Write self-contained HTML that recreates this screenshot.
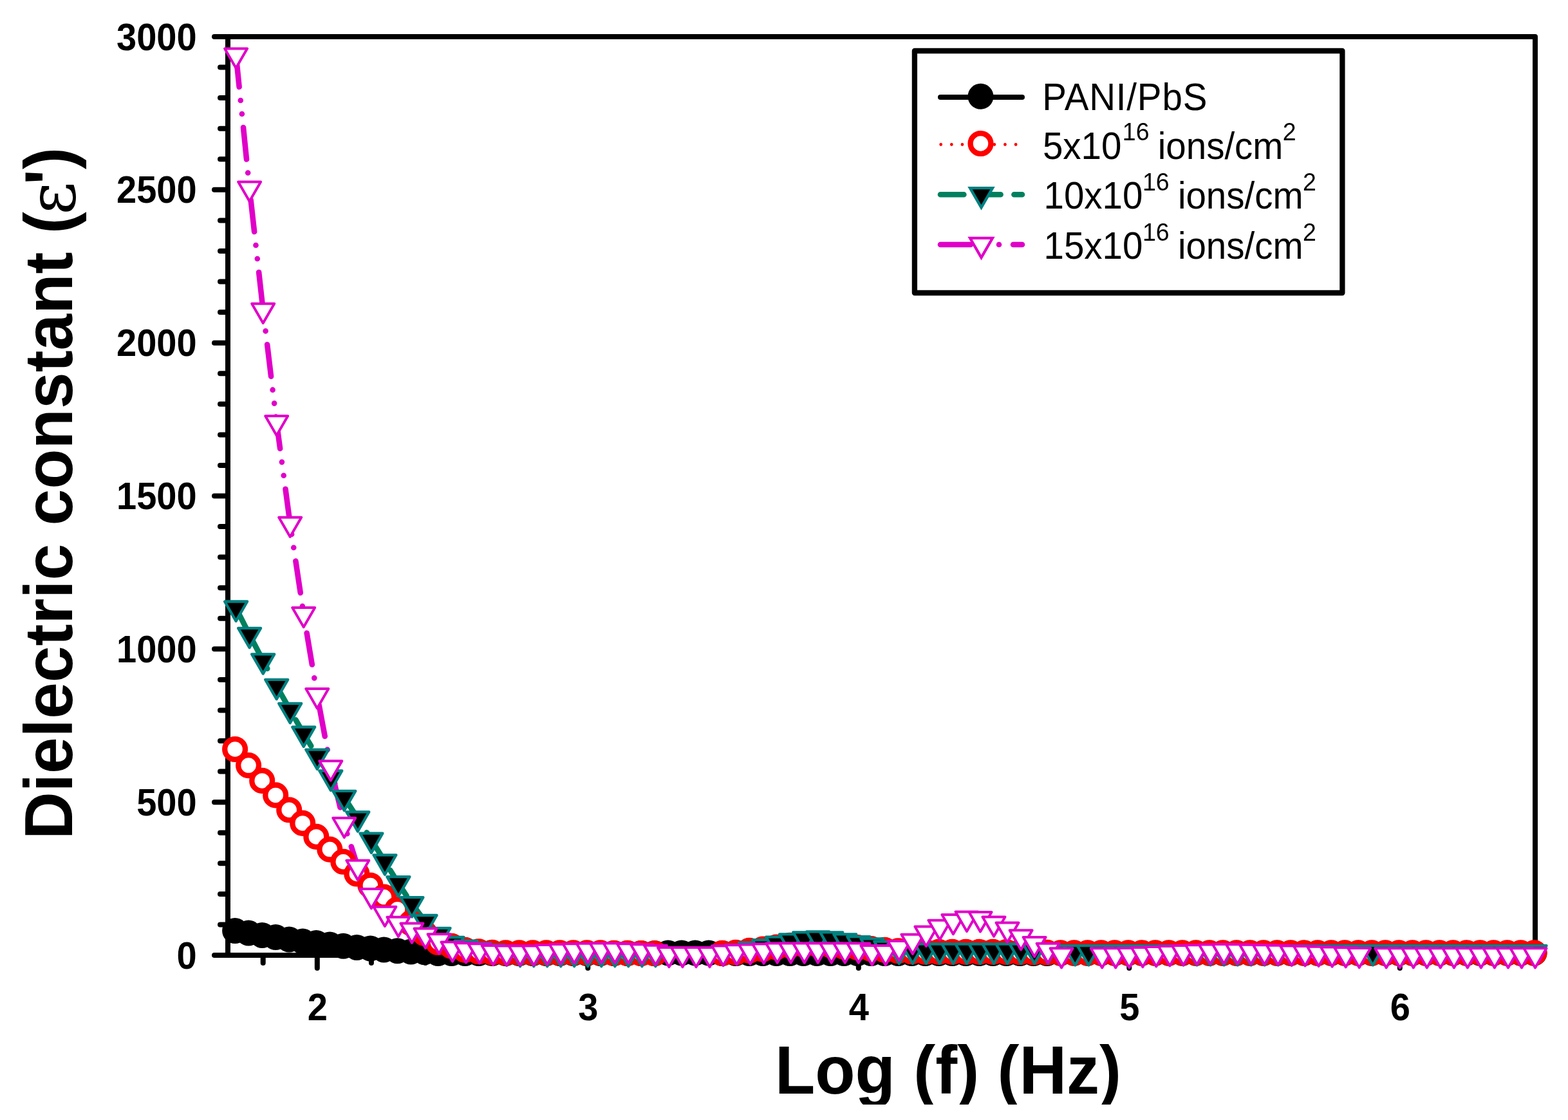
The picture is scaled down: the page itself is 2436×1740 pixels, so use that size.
<!DOCTYPE html>
<html><head><meta charset="utf-8"><title>Dielectric constant vs Log (f)</title>
<style>html,body{margin:0;padding:0;background:#fff;}body{width:2436px;height:1740px;overflow:hidden;}svg{display:block;}</style>
</head><body>
<svg width="2436" height="1740" viewBox="0 0 2436 1740">
<rect width="100%" height="100%" fill="#fff"/>
<rect x="354.0" y="57.0" width="2031.0" height="1427.0" fill="none" stroke="#000" stroke-width="8" stroke-linejoin="round"/>
<path d="M354.0 1484.0H333.0M354.0 1436.4H342.0M354.0 1388.9H342.0M354.0 1341.3H342.0M354.0 1293.7H342.0M354.0 1246.2H333.0M354.0 1198.6H342.0M354.0 1151.0H342.0M354.0 1103.5H342.0M354.0 1055.9H342.0M354.0 1008.3H333.0M354.0 960.8H342.0M354.0 913.2H342.0M354.0 865.6H342.0M354.0 818.1H342.0M354.0 770.5H333.0M354.0 722.9H342.0M354.0 675.4H342.0M354.0 627.8H342.0M354.0 580.2H342.0M354.0 532.7H333.0M354.0 485.1H342.0M354.0 437.5H342.0M354.0 390.0H342.0M354.0 342.4H342.0M354.0 294.8H333.0M354.0 247.3H342.0M354.0 199.7H342.0M354.0 152.1H342.0M354.0 104.6H342.0M354.0 57.0H333.0M408.7 1484.0V1496.0M492.8 1484.0V1504.0M576.9 1484.0V1496.0M661.0 1484.0V1496.0M745.1 1484.0V1496.0M829.2 1484.0V1496.0M913.3 1484.0V1504.0M997.4 1484.0V1496.0M1081.5 1484.0V1496.0M1165.6 1484.0V1496.0M1249.7 1484.0V1496.0M1333.8 1484.0V1504.0M1417.9 1484.0V1496.0M1502.0 1484.0V1496.0M1586.1 1484.0V1496.0M1670.2 1484.0V1496.0M1754.3 1484.0V1504.0M1838.4 1484.0V1496.0M1922.5 1484.0V1496.0M2006.6 1484.0V1496.0M2090.7 1484.0V1496.0M2174.8 1484.0V1504.0M2258.9 1484.0V1496.0M2343.0 1484.0V1496.0" fill="none" stroke="#000" stroke-width="8" stroke-linecap="round"/>
<path d="M366.6 1446.0L387.6 1449.6L408.7 1452.9L429.7 1456.1L450.7 1459.6L471.7 1462.6L492.8 1464.9L513.8 1467.5L534.8 1469.8L555.8 1471.9L576.9 1473.6L597.9 1475.4L618.9 1477.2L639.9 1478.5L661.0 1479.2L682.0 1481.1L703.0 1481.1L724.0 1481.1L745.1 1481.1L766.1 1481.1L787.1 1481.1L808.1 1481.1L829.2 1481.1L850.2 1481.1L871.2 1481.1L892.2 1481.1L913.3 1481.1L934.3 1481.1L955.3 1481.1L976.3 1481.1L997.4 1481.1L1018.4 1481.1L1039.4 1480.6L1060.4 1480.6L1081.5 1480.6L1102.5 1480.6L1123.5 1481.1L1144.5 1481.1L1165.6 1481.1L1186.6 1481.1L1207.6 1481.1L1228.6 1481.1L1249.7 1481.1L1270.7 1481.1L1291.7 1481.1L1312.7 1481.1L1333.8 1481.1L1354.8 1481.1L1375.8 1481.1L1396.8 1481.1L1417.9 1481.1L1438.9 1481.1L1459.9 1481.1L1480.9 1481.1L1502.0 1481.1L1523.0 1481.1L1544.0 1481.1L1565.0 1481.1L1586.1 1481.1L1607.1 1481.1L1628.1 1481.1L1649.1 1480.7L1670.2 1480.7L1691.2 1480.7L1712.2 1480.7L1733.2 1480.7L1754.3 1480.7L1775.3 1480.7L1796.3 1480.7L1817.3 1480.7L1838.4 1480.7L1859.4 1480.7L1880.4 1480.7L1901.4 1480.7L1922.5 1480.7L1943.5 1480.7L1964.5 1480.7L1985.5 1480.7L2006.6 1480.7L2027.6 1480.7L2048.6 1480.7L2069.6 1480.7L2090.7 1480.7L2111.7 1480.7L2132.7 1480.7L2153.7 1480.7L2174.8 1480.7L2195.8 1480.7L2216.8 1480.7L2237.8 1480.7L2258.9 1480.7L2279.9 1480.7L2300.9 1480.7L2321.9 1480.7L2343.0 1480.7L2364.0 1480.7L2385.0 1480.7" fill="none" stroke="#000" stroke-width="8" stroke-linejoin="round" stroke-linecap="round"/>
<path d="M366.6 1164.0L387.6 1189.1L408.7 1212.9L429.7 1235.4L450.7 1258.3L471.7 1278.9L492.8 1299.9L513.8 1319.6L534.8 1338.7L555.8 1357.5L576.9 1375.5L597.9 1393.6L618.9 1412.7L639.9 1434.1L661.0 1449.8L682.0 1464.0L703.0 1469.7L724.0 1475.9L745.1 1478.3L766.1 1479.7L787.1 1480.2L808.1 1480.2L829.2 1480.2L850.2 1480.2L871.2 1480.2L892.2 1480.2L913.3 1480.2L934.3 1480.2L955.3 1480.7L976.3 1480.7L997.4 1481.1L1018.4 1481.2M1123.5 1480.9L1144.5 1479.7L1165.6 1476.9L1186.6 1474.5L1207.6 1471.6L1228.6 1468.8L1249.7 1467.4L1270.7 1466.9L1291.7 1468.3L1312.7 1470.7L1333.8 1472.1L1354.8 1474.0L1375.8 1475.9L1396.8 1477.3L1417.9 1478.3L1438.9 1478.8L1459.9 1478.9L1480.9 1478.9L1502.0 1478.9L1523.0 1478.9L1544.0 1478.9L1565.0 1479.0L1586.1 1479.2L1607.1 1479.5L1628.1 1479.7L1649.1 1480.2L1670.2 1480.2L1691.2 1480.2L1712.2 1480.2L1733.2 1480.2L1754.3 1480.2L1775.3 1480.2L1796.3 1480.2L1817.3 1480.2L1838.4 1480.2L1859.4 1480.2L1880.4 1480.2L1901.4 1480.2L1922.5 1480.2L1943.5 1480.2L1964.5 1480.2L1985.5 1480.2L2006.6 1480.2L2027.6 1480.2L2048.6 1480.2L2069.6 1480.2L2090.7 1480.2L2111.7 1480.2L2132.7 1480.2L2153.7 1480.2L2174.8 1480.2L2195.8 1480.2L2216.8 1480.2L2237.8 1480.2L2258.9 1480.2L2279.9 1480.2L2300.9 1480.2L2321.9 1480.2L2343.0 1480.2L2364.0 1480.2L2385.0 1480.2" fill="none" stroke="#ff0000" stroke-width="4.8" stroke-linecap="round" stroke-dasharray="0 16.6"/>
<path d="M366.6 944.6L387.6 986.0L408.7 1026.4L429.7 1065.9L450.7 1103.0L471.7 1139.6L492.8 1174.8L513.8 1207.6L534.8 1239.0L555.8 1271.4L576.9 1304.7L597.9 1338.4L618.9 1372.2L639.9 1404.3L661.0 1432.2L682.0 1451.9L703.0 1466.1L724.0 1471.8L745.1 1475.3L766.1 1478.3L787.1 1479.7L808.1 1481.1L829.2 1481.1L850.2 1481.1L871.2 1481.1L892.2 1481.1L913.3 1481.1L934.3 1481.1L955.3 1481.1L976.3 1481.1L997.4 1481.1L1018.4 1481.1M1123.5 1479.7L1144.5 1478.1L1165.6 1474.5L1186.6 1470.4L1207.6 1465.7L1228.6 1461.4L1249.7 1458.6L1270.7 1457.5L1291.7 1458.6L1312.7 1461.4L1333.8 1465.2L1354.8 1468.4L1375.8 1472.8L1396.8 1476.9L1417.9 1476.7L1438.9 1476.7L1459.9 1476.7L1480.9 1476.7L1502.0 1476.7L1523.0 1476.7L1544.0 1476.7L1565.0 1476.7L1586.1 1476.7L1607.1 1476.7L1628.1 1476.7L1649.1 1479.3L1670.2 1479.3L1691.2 1479.3L1712.2 1479.3L1733.2 1479.3L1754.3 1479.3L1775.3 1479.3L1796.3 1479.3L1817.3 1479.3L1838.4 1479.3L1859.4 1479.3L1880.4 1479.3L1901.4 1479.3L1922.5 1479.3L1943.5 1479.3L1964.5 1479.3L1985.5 1479.3L2006.6 1479.3L2027.6 1479.3L2048.6 1479.3L2069.6 1479.3L2090.7 1479.3L2111.7 1479.3L2132.7 1479.3L2153.7 1479.3L2174.8 1479.3L2195.8 1479.3L2216.8 1479.3L2237.8 1479.3L2258.9 1479.3L2279.9 1479.3L2300.9 1479.3L2321.9 1479.3L2343.0 1479.3L2364.0 1479.3L2385.0 1479.3" fill="none" stroke="#00805e" stroke-width="8.6" stroke-linecap="round" stroke-linejoin="round" stroke-dasharray="47 22" stroke-dashoffset="10"/>
<path d="M366.6 85.5L387.6 292.5L408.7 481.8L429.7 656.3L450.7 813.8L471.7 954.1L492.8 1080.2L513.8 1192.4L534.8 1280.9L555.8 1346.8L576.9 1391.1L597.9 1418.8L618.9 1434.8L639.9 1444.6L661.0 1452.7L682.0 1461.3L703.0 1473.5L724.0 1475.3L745.1 1476.4L766.1 1479.0L787.1 1479.5L808.1 1479.5L829.2 1479.5L850.2 1478.1L871.2 1477.2L892.2 1476.4L913.3 1475.9L934.3 1475.7L955.3 1475.7L976.3 1476.4L997.4 1477.3L1018.4 1478.8L1039.4 1482.1L1060.4 1482.1L1081.5 1482.1L1102.5 1482.1L1123.5 1479.7L1144.5 1478.3L1165.6 1477.6L1186.6 1476.6L1207.6 1475.6L1228.6 1475.6L1249.7 1475.6L1270.7 1475.6L1291.7 1475.6L1312.7 1475.6L1333.8 1475.6L1354.8 1479.0L1375.8 1479.0L1396.8 1472.0L1417.9 1461.8L1438.9 1449.8L1459.9 1439.9L1480.9 1431.1L1502.0 1426.7L1523.0 1427.2L1544.0 1434.6L1565.0 1443.7L1586.1 1455.3L1607.1 1466.0L1628.1 1475.9L1649.1 1483.3M1712.2 1483.3L1733.2 1483.3L1754.3 1483.0L1775.3 1482.1L1796.3 1481.1L1817.3 1480.2L1838.4 1479.2L1859.4 1478.3L1880.4 1477.6L1901.4 1477.1L1922.5 1477.3L1943.5 1477.8L1964.5 1478.3L1985.5 1478.8L2006.6 1479.7L2027.6 1480.2L2048.6 1480.9L2069.6 1481.6L2090.7 1482.3L2111.7 1483.0M2153.7 1483.3L2174.8 1483.3L2195.8 1483.3L2216.8 1483.3L2237.8 1483.3L2258.9 1483.3L2279.9 1483.3L2300.9 1483.3L2321.9 1483.3L2343.0 1483.3L2364.0 1483.3L2385.0 1483.3" fill="none" stroke="#e000c8" stroke-width="8.6" stroke-linecap="round" stroke-linejoin="round" stroke-dasharray="49.8 21.1 0 21.1 0 21.1"/>
<g fill="#000"><circle cx="365.1" cy="1446.0" r="20"/><circle cx="386.1" cy="1449.6" r="20"/><circle cx="407.2" cy="1452.9" r="20"/><circle cx="428.2" cy="1456.1" r="20"/><circle cx="449.2" cy="1459.6" r="20"/><circle cx="470.2" cy="1462.6" r="20"/><circle cx="491.3" cy="1464.9" r="20"/><circle cx="512.3" cy="1467.5" r="20"/><circle cx="533.3" cy="1469.8" r="20"/><circle cx="554.3" cy="1471.9" r="20"/><circle cx="575.4" cy="1473.6" r="20"/><circle cx="596.4" cy="1475.4" r="20"/><circle cx="617.4" cy="1477.2" r="20"/><circle cx="638.4" cy="1478.5" r="20"/><circle cx="659.5" cy="1479.2" r="20"/><circle cx="680.5" cy="1481.1" r="20"/><circle cx="701.5" cy="1481.1" r="20"/><circle cx="722.5" cy="1481.1" r="20"/><circle cx="743.6" cy="1481.1" r="20"/><circle cx="764.6" cy="1481.1" r="20"/><circle cx="785.6" cy="1481.1" r="20"/><circle cx="806.6" cy="1481.1" r="20"/><circle cx="827.7" cy="1481.1" r="20"/><circle cx="848.7" cy="1481.1" r="20"/><circle cx="869.7" cy="1481.1" r="20"/><circle cx="890.7" cy="1481.1" r="20"/><circle cx="911.8" cy="1481.1" r="20"/><circle cx="932.8" cy="1481.1" r="20"/><circle cx="953.8" cy="1481.1" r="20"/><circle cx="974.8" cy="1481.1" r="20"/><circle cx="995.9" cy="1481.1" r="20"/><circle cx="1016.9" cy="1481.1" r="20"/><circle cx="1037.9" cy="1480.6" r="20"/><circle cx="1058.9" cy="1480.6" r="20"/><circle cx="1080.0" cy="1480.6" r="20"/><circle cx="1101.0" cy="1480.6" r="20"/><circle cx="1122.0" cy="1481.1" r="20"/><circle cx="1143.0" cy="1481.1" r="20"/><circle cx="1164.1" cy="1481.1" r="20"/><circle cx="1185.1" cy="1481.1" r="20"/><circle cx="1206.1" cy="1481.1" r="20"/><circle cx="1227.1" cy="1481.1" r="20"/><circle cx="1248.2" cy="1481.1" r="20"/><circle cx="1269.2" cy="1481.1" r="20"/><circle cx="1290.2" cy="1481.1" r="20"/><circle cx="1311.2" cy="1481.1" r="20"/><circle cx="1332.3" cy="1481.1" r="20"/><circle cx="1353.3" cy="1481.1" r="20"/><circle cx="1374.3" cy="1481.1" r="20"/><circle cx="1395.3" cy="1481.1" r="20"/><circle cx="1416.4" cy="1481.1" r="20"/><circle cx="1437.4" cy="1481.1" r="20"/><circle cx="1458.4" cy="1481.1" r="20"/><circle cx="1479.4" cy="1481.1" r="20"/><circle cx="1500.5" cy="1481.1" r="20"/><circle cx="1521.5" cy="1481.1" r="20"/><circle cx="1542.5" cy="1481.1" r="20"/><circle cx="1563.5" cy="1481.1" r="20"/><circle cx="1584.6" cy="1481.1" r="20"/><circle cx="1605.6" cy="1481.1" r="20"/><circle cx="1626.6" cy="1481.1" r="20"/><circle cx="1647.6" cy="1480.7" r="20"/><circle cx="1668.7" cy="1480.7" r="20"/><circle cx="1689.7" cy="1480.7" r="20"/><circle cx="1710.7" cy="1480.7" r="20"/><circle cx="1731.7" cy="1480.7" r="20"/><circle cx="1752.8" cy="1480.7" r="20"/><circle cx="1773.8" cy="1480.7" r="20"/><circle cx="1794.8" cy="1480.7" r="20"/><circle cx="1815.8" cy="1480.7" r="20"/><circle cx="1836.9" cy="1480.7" r="20"/><circle cx="1857.9" cy="1480.7" r="20"/><circle cx="1878.9" cy="1480.7" r="20"/><circle cx="1899.9" cy="1480.7" r="20"/><circle cx="1921.0" cy="1480.7" r="20"/><circle cx="1942.0" cy="1480.7" r="20"/><circle cx="1963.0" cy="1480.7" r="20"/><circle cx="1984.0" cy="1480.7" r="20"/><circle cx="2005.1" cy="1480.7" r="20"/><circle cx="2026.1" cy="1480.7" r="20"/><circle cx="2047.1" cy="1480.7" r="20"/><circle cx="2068.1" cy="1480.7" r="20"/><circle cx="2089.2" cy="1480.7" r="20"/><circle cx="2110.2" cy="1480.7" r="20"/><circle cx="2131.2" cy="1480.7" r="20"/><circle cx="2152.2" cy="1480.7" r="20"/><circle cx="2173.3" cy="1480.7" r="20"/><circle cx="2194.3" cy="1480.7" r="20"/><circle cx="2215.3" cy="1480.7" r="20"/><circle cx="2236.3" cy="1480.7" r="20"/><circle cx="2257.4" cy="1480.7" r="20"/><circle cx="2278.4" cy="1480.7" r="20"/><circle cx="2299.4" cy="1480.7" r="20"/><circle cx="2320.4" cy="1480.7" r="20"/><circle cx="2341.5" cy="1480.7" r="20"/><circle cx="2362.5" cy="1480.7" r="20"/><circle cx="2383.5" cy="1480.7" r="20"/></g>
<g fill="#fff" stroke="#ff0000" stroke-width="8.3"><circle cx="365.1" cy="1164.0" r="15.9"/><circle cx="386.1" cy="1189.1" r="15.9"/><circle cx="407.2" cy="1212.9" r="15.9"/><circle cx="428.2" cy="1235.4" r="15.9"/><circle cx="449.2" cy="1258.3" r="15.9"/><circle cx="470.2" cy="1278.9" r="15.9"/><circle cx="491.3" cy="1299.9" r="15.9"/><circle cx="512.3" cy="1319.6" r="15.9"/><circle cx="533.3" cy="1338.7" r="15.9"/><circle cx="554.3" cy="1357.5" r="15.9"/><circle cx="575.4" cy="1375.5" r="15.9"/><circle cx="596.4" cy="1393.6" r="15.9"/><circle cx="617.4" cy="1412.7" r="15.9"/><circle cx="638.4" cy="1434.1" r="15.9"/><circle cx="659.5" cy="1449.8" r="15.9"/><circle cx="680.5" cy="1464.0" r="15.9"/><circle cx="701.5" cy="1469.7" r="15.9"/><circle cx="722.5" cy="1475.9" r="15.9"/><circle cx="743.6" cy="1478.3" r="15.9"/><circle cx="764.6" cy="1479.7" r="15.9"/><circle cx="785.6" cy="1480.2" r="15.9"/><circle cx="806.6" cy="1480.2" r="15.9"/><circle cx="827.7" cy="1480.2" r="15.9"/><circle cx="848.7" cy="1480.2" r="15.9"/><circle cx="869.7" cy="1480.2" r="15.9"/><circle cx="890.7" cy="1480.2" r="15.9"/><circle cx="911.8" cy="1480.2" r="15.9"/><circle cx="932.8" cy="1480.2" r="15.9"/><circle cx="953.8" cy="1480.7" r="15.9"/><circle cx="974.8" cy="1480.7" r="15.9"/><circle cx="995.9" cy="1481.1" r="15.9"/><circle cx="1016.9" cy="1481.2" r="15.9"/><circle cx="1122.0" cy="1480.9" r="15.9"/><circle cx="1143.0" cy="1479.7" r="15.9"/><circle cx="1164.1" cy="1476.9" r="15.9"/><circle cx="1185.1" cy="1474.5" r="15.9"/><circle cx="1206.1" cy="1471.6" r="15.9"/><circle cx="1227.1" cy="1468.8" r="15.9"/><circle cx="1248.2" cy="1467.4" r="15.9"/><circle cx="1269.2" cy="1466.9" r="15.9"/><circle cx="1290.2" cy="1468.3" r="15.9"/><circle cx="1311.2" cy="1470.7" r="15.9"/><circle cx="1332.3" cy="1472.1" r="15.9"/><circle cx="1353.3" cy="1474.0" r="15.9"/><circle cx="1374.3" cy="1475.9" r="15.9"/><circle cx="1395.3" cy="1477.3" r="15.9"/><circle cx="1416.4" cy="1478.3" r="15.9"/><circle cx="1437.4" cy="1478.8" r="15.9"/><circle cx="1458.4" cy="1478.9" r="15.9"/><circle cx="1479.4" cy="1478.9" r="15.9"/><circle cx="1500.5" cy="1478.9" r="15.9"/><circle cx="1521.5" cy="1478.9" r="15.9"/><circle cx="1542.5" cy="1478.9" r="15.9"/><circle cx="1563.5" cy="1479.0" r="15.9"/><circle cx="1584.6" cy="1479.2" r="15.9"/><circle cx="1605.6" cy="1479.5" r="15.9"/><circle cx="1626.6" cy="1479.7" r="15.9"/><circle cx="1647.6" cy="1480.2" r="15.9"/><circle cx="1668.7" cy="1480.2" r="15.9"/><circle cx="1689.7" cy="1480.2" r="15.9"/><circle cx="1710.7" cy="1480.2" r="15.9"/><circle cx="1731.7" cy="1480.2" r="15.9"/><circle cx="1752.8" cy="1480.2" r="15.9"/><circle cx="1773.8" cy="1480.2" r="15.9"/><circle cx="1794.8" cy="1480.2" r="15.9"/><circle cx="1815.8" cy="1480.2" r="15.9"/><circle cx="1836.9" cy="1480.2" r="15.9"/><circle cx="1857.9" cy="1480.2" r="15.9"/><circle cx="1878.9" cy="1480.2" r="15.9"/><circle cx="1899.9" cy="1480.2" r="15.9"/><circle cx="1921.0" cy="1480.2" r="15.9"/><circle cx="1942.0" cy="1480.2" r="15.9"/><circle cx="1963.0" cy="1480.2" r="15.9"/><circle cx="1984.0" cy="1480.2" r="15.9"/><circle cx="2005.1" cy="1480.2" r="15.9"/><circle cx="2026.1" cy="1480.2" r="15.9"/><circle cx="2047.1" cy="1480.2" r="15.9"/><circle cx="2068.1" cy="1480.2" r="15.9"/><circle cx="2089.2" cy="1480.2" r="15.9"/><circle cx="2110.2" cy="1480.2" r="15.9"/><circle cx="2131.2" cy="1480.2" r="15.9"/><circle cx="2152.2" cy="1480.2" r="15.9"/><circle cx="2173.3" cy="1480.2" r="15.9"/><circle cx="2194.3" cy="1480.2" r="15.9"/><circle cx="2215.3" cy="1480.2" r="15.9"/><circle cx="2236.3" cy="1480.2" r="15.9"/><circle cx="2257.4" cy="1480.2" r="15.9"/><circle cx="2278.4" cy="1480.2" r="15.9"/><circle cx="2299.4" cy="1480.2" r="15.9"/><circle cx="2320.4" cy="1480.2" r="15.9"/><circle cx="2341.5" cy="1480.2" r="15.9"/><circle cx="2362.5" cy="1480.2" r="15.9"/><circle cx="2383.5" cy="1480.2" r="15.9"/></g>
<g fill="#000" stroke="#008080" stroke-width="4.3" stroke-linejoin="round"><path d="M349.1 934.5L384.1 934.5L366.6 964.8Z"/><path d="M370.1 975.9L405.1 975.9L387.6 1006.2Z"/><path d="M391.2 1016.3L426.2 1016.3L408.7 1046.6Z"/><path d="M412.2 1055.8L447.2 1055.8L429.7 1086.1Z"/><path d="M433.2 1092.9L468.2 1092.9L450.7 1123.2Z"/><path d="M454.2 1129.5L489.2 1129.5L471.7 1159.8Z"/><path d="M475.3 1164.7L510.3 1164.7L492.8 1195.0Z"/><path d="M496.3 1197.5L531.3 1197.5L513.8 1227.8Z"/><path d="M517.3 1228.9L552.3 1228.9L534.8 1259.2Z"/><path d="M538.3 1261.3L573.3 1261.3L555.8 1291.6Z"/><path d="M559.4 1294.6L594.4 1294.6L576.9 1324.9Z"/><path d="M580.4 1328.3L615.4 1328.3L597.9 1358.7Z"/><path d="M601.4 1362.1L636.4 1362.1L618.9 1392.4Z"/><path d="M622.4 1394.2L657.4 1394.2L639.9 1424.5Z"/><path d="M643.5 1422.0L678.5 1422.0L661.0 1452.4Z"/><path d="M664.5 1441.8L699.5 1441.8L682.0 1472.1Z"/><path d="M685.5 1456.0L720.5 1456.0L703.0 1486.3Z"/><path d="M706.5 1461.7L741.5 1461.7L724.0 1492.0Z"/><path d="M727.6 1465.2L762.6 1465.2L745.1 1495.5Z"/><path d="M748.6 1468.2L783.6 1468.2L766.1 1498.5Z"/><path d="M769.6 1469.6L804.6 1469.6L787.1 1499.9Z"/><path d="M790.6 1470.9L825.6 1470.9L808.1 1501.3Z"/><path d="M811.7 1470.9L846.7 1470.9L829.2 1501.3Z"/><path d="M832.7 1470.9L867.7 1470.9L850.2 1501.3Z"/><path d="M853.7 1470.9L888.7 1470.9L871.2 1501.3Z"/><path d="M874.7 1470.9L909.7 1470.9L892.2 1501.3Z"/><path d="M895.8 1470.9L930.8 1470.9L913.3 1501.3Z"/><path d="M916.8 1470.9L951.8 1470.9L934.3 1501.3Z"/><path d="M937.8 1470.9L972.8 1470.9L955.3 1501.3Z"/><path d="M958.8 1470.9L993.8 1470.9L976.3 1501.3Z"/><path d="M979.9 1470.9L1014.9 1470.9L997.4 1501.3Z"/><path d="M1000.9 1470.9L1035.9 1470.9L1018.4 1501.3Z"/><path d="M1106.0 1469.6L1141.0 1469.6L1123.5 1499.9Z"/><path d="M1127.0 1468.0L1162.0 1468.0L1144.5 1498.3Z"/><path d="M1148.1 1464.4L1183.1 1464.4L1165.6 1494.7Z"/><path d="M1169.1 1460.3L1204.1 1460.3L1186.6 1490.7Z"/><path d="M1190.1 1455.6L1225.1 1455.6L1207.6 1485.9Z"/><path d="M1211.1 1451.3L1246.1 1451.3L1228.6 1481.6Z"/><path d="M1232.2 1448.4L1267.2 1448.4L1249.7 1478.8Z"/><path d="M1253.2 1447.4L1288.2 1447.4L1270.7 1477.7Z"/><path d="M1274.2 1448.4L1309.2 1448.4L1291.7 1478.8Z"/><path d="M1295.2 1451.3L1330.2 1451.3L1312.7 1481.6Z"/><path d="M1316.3 1455.1L1351.3 1455.1L1333.8 1485.4Z"/><path d="M1337.3 1458.3L1372.3 1458.3L1354.8 1488.7Z"/><path d="M1358.3 1462.7L1393.3 1462.7L1375.8 1493.0Z"/><path d="M1379.3 1466.8L1414.3 1466.8L1396.8 1497.1Z"/><path d="M1400.4 1466.6L1435.4 1466.6L1417.9 1496.9Z"/><path d="M1421.4 1466.6L1456.4 1466.6L1438.9 1496.9Z"/><path d="M1442.4 1466.6L1477.4 1466.6L1459.9 1496.9Z"/><path d="M1463.4 1466.6L1498.4 1466.6L1480.9 1496.9Z"/><path d="M1484.5 1466.6L1519.5 1466.6L1502.0 1496.9Z"/><path d="M1505.5 1466.6L1540.5 1466.6L1523.0 1496.9Z"/><path d="M1526.5 1466.6L1561.5 1466.6L1544.0 1496.9Z"/><path d="M1547.5 1466.6L1582.5 1466.6L1565.0 1496.9Z"/><path d="M1568.6 1466.6L1603.6 1466.6L1586.1 1496.9Z"/><path d="M1589.6 1466.6L1624.6 1466.6L1607.1 1496.9Z"/><path d="M1610.6 1466.6L1645.6 1466.6L1628.1 1496.9Z"/><path d="M1631.6 1469.2L1666.6 1469.2L1649.1 1499.5Z"/><path d="M1652.7 1469.2L1687.7 1469.2L1670.2 1499.5Z"/><path d="M1673.7 1469.2L1708.7 1469.2L1691.2 1499.5Z"/><path d="M1694.7 1469.2L1729.7 1469.2L1712.2 1499.5Z"/><path d="M1715.7 1469.2L1750.7 1469.2L1733.2 1499.5Z"/><path d="M1736.8 1469.2L1771.8 1469.2L1754.3 1499.5Z"/><path d="M1757.8 1469.2L1792.8 1469.2L1775.3 1499.5Z"/><path d="M1778.8 1469.2L1813.8 1469.2L1796.3 1499.5Z"/><path d="M1799.8 1469.2L1834.8 1469.2L1817.3 1499.5Z"/><path d="M1820.9 1469.2L1855.9 1469.2L1838.4 1499.5Z"/><path d="M1841.9 1469.2L1876.9 1469.2L1859.4 1499.5Z"/><path d="M1862.9 1469.2L1897.9 1469.2L1880.4 1499.5Z"/><path d="M1883.9 1469.2L1918.9 1469.2L1901.4 1499.5Z"/><path d="M1905.0 1469.2L1940.0 1469.2L1922.5 1499.5Z"/><path d="M1926.0 1469.2L1961.0 1469.2L1943.5 1499.5Z"/><path d="M1947.0 1469.2L1982.0 1469.2L1964.5 1499.5Z"/><path d="M1968.0 1469.2L2003.0 1469.2L1985.5 1499.5Z"/><path d="M1989.1 1469.2L2024.1 1469.2L2006.6 1499.5Z"/><path d="M2010.1 1469.2L2045.1 1469.2L2027.6 1499.5Z"/><path d="M2031.1 1469.2L2066.1 1469.2L2048.6 1499.5Z"/><path d="M2052.1 1469.2L2087.1 1469.2L2069.6 1499.5Z"/><path d="M2073.2 1469.2L2108.2 1469.2L2090.7 1499.5Z"/><path d="M2094.2 1469.2L2129.2 1469.2L2111.7 1499.5Z"/><path d="M2115.2 1469.2L2150.2 1469.2L2132.7 1499.5Z"/><path d="M2136.2 1469.2L2171.2 1469.2L2153.7 1499.5Z"/><path d="M2157.3 1469.2L2192.3 1469.2L2174.8 1499.5Z"/><path d="M2178.3 1469.2L2213.3 1469.2L2195.8 1499.5Z"/><path d="M2199.3 1469.2L2234.3 1469.2L2216.8 1499.5Z"/><path d="M2220.3 1469.2L2255.3 1469.2L2237.8 1499.5Z"/><path d="M2241.4 1469.2L2276.4 1469.2L2258.9 1499.5Z"/><path d="M2262.4 1469.2L2297.4 1469.2L2279.9 1499.5Z"/><path d="M2283.4 1469.2L2318.4 1469.2L2300.9 1499.5Z"/><path d="M2304.4 1469.2L2339.4 1469.2L2321.9 1499.5Z"/><path d="M2325.5 1469.2L2360.5 1469.2L2343.0 1499.5Z"/><path d="M2346.5 1469.2L2381.5 1469.2L2364.0 1499.5Z"/><path d="M2367.5 1469.2L2402.5 1469.2L2385.0 1499.5Z"/></g>
<g fill="#fff" stroke="#e000c8" stroke-width="4.0" stroke-linejoin="round"><path d="M349.1 75.4L384.1 75.4L366.6 105.7Z"/><path d="M370.1 282.4L405.1 282.4L387.6 312.7Z"/><path d="M391.2 471.7L426.2 471.7L408.7 502.0Z"/><path d="M412.2 646.2L447.2 646.2L429.7 676.5Z"/><path d="M433.2 803.7L468.2 803.7L450.7 834.0Z"/><path d="M454.2 944.0L489.2 944.0L471.7 974.3Z"/><path d="M475.3 1070.1L510.3 1070.1L492.8 1100.4Z"/><path d="M496.3 1182.3L531.3 1182.3L513.8 1212.6Z"/><path d="M517.3 1270.8L552.3 1270.8L534.8 1301.1Z"/><path d="M538.3 1336.7L573.3 1336.7L555.8 1367.0Z"/><path d="M559.4 1381.0L594.4 1381.0L576.9 1411.3Z"/><path d="M580.4 1408.7L615.4 1408.7L597.9 1439.0Z"/><path d="M601.4 1424.7L636.4 1424.7L618.9 1455.0Z"/><path d="M622.4 1434.5L657.4 1434.5L639.9 1464.8Z"/><path d="M643.5 1442.6L678.5 1442.6L661.0 1472.9Z"/><path d="M664.5 1451.2L699.5 1451.2L682.0 1481.5Z"/><path d="M685.5 1463.4L720.5 1463.4L703.0 1493.7Z"/><path d="M706.5 1465.2L741.5 1465.2L724.0 1495.5Z"/><path d="M727.6 1466.3L762.6 1466.3L745.1 1496.6Z"/><path d="M748.6 1468.9L783.6 1468.9L766.1 1499.2Z"/><path d="M769.6 1469.4L804.6 1469.4L787.1 1499.7Z"/><path d="M790.6 1469.4L825.6 1469.4L808.1 1499.7Z"/><path d="M811.7 1469.4L846.7 1469.4L829.2 1499.7Z"/><path d="M832.7 1468.0L867.7 1468.0L850.2 1498.3Z"/><path d="M853.7 1467.1L888.7 1467.1L871.2 1497.5Z"/><path d="M874.7 1466.3L909.7 1466.3L892.2 1496.6Z"/><path d="M895.8 1465.8L930.8 1465.8L913.3 1496.1Z"/><path d="M916.8 1465.6L951.8 1465.6L934.3 1495.9Z"/><path d="M937.8 1465.6L972.8 1465.6L955.3 1495.9Z"/><path d="M958.8 1466.3L993.8 1466.3L976.3 1496.6Z"/><path d="M979.9 1467.2L1014.9 1467.2L997.4 1497.5Z"/><path d="M1000.9 1468.7L1035.9 1468.7L1018.4 1499.0Z"/><path d="M1021.9 1472.0L1056.9 1472.0L1039.4 1502.3Z"/><path d="M1042.9 1472.0L1077.9 1472.0L1060.4 1502.3Z"/><path d="M1064.0 1472.0L1099.0 1472.0L1081.5 1502.3Z"/><path d="M1085.0 1472.0L1120.0 1472.0L1102.5 1502.3Z"/><path d="M1106.0 1469.6L1141.0 1469.6L1123.5 1499.9Z"/><path d="M1127.0 1468.2L1162.0 1468.2L1144.5 1498.5Z"/><path d="M1148.1 1467.5L1183.1 1467.5L1165.6 1497.8Z"/><path d="M1169.1 1466.5L1204.1 1466.5L1186.6 1496.8Z"/><path d="M1190.1 1465.5L1225.1 1465.5L1207.6 1495.8Z"/><path d="M1211.1 1465.5L1246.1 1465.5L1228.6 1495.8Z"/><path d="M1232.2 1465.5L1267.2 1465.5L1249.7 1495.8Z"/><path d="M1253.2 1465.5L1288.2 1465.5L1270.7 1495.8Z"/><path d="M1274.2 1465.5L1309.2 1465.5L1291.7 1495.8Z"/><path d="M1295.2 1465.5L1330.2 1465.5L1312.7 1495.8Z"/><path d="M1316.3 1465.5L1351.3 1465.5L1333.8 1495.8Z"/><path d="M1337.3 1468.9L1372.3 1468.9L1354.8 1499.2Z"/><path d="M1358.3 1468.9L1393.3 1468.9L1375.8 1499.2Z"/><path d="M1379.3 1461.9L1414.3 1461.9L1396.8 1492.2Z"/><path d="M1400.4 1451.7L1435.4 1451.7L1417.9 1482.0Z"/><path d="M1421.4 1439.6L1456.4 1439.6L1438.9 1470.0Z"/><path d="M1442.4 1429.8L1477.4 1429.8L1459.9 1460.1Z"/><path d="M1463.4 1421.0L1498.4 1421.0L1480.9 1451.3Z"/><path d="M1484.5 1416.6L1519.5 1416.6L1502.0 1446.9Z"/><path d="M1505.5 1417.1L1540.5 1417.1L1523.0 1447.4Z"/><path d="M1526.5 1424.5L1561.5 1424.5L1544.0 1454.8Z"/><path d="M1547.5 1433.6L1582.5 1433.6L1565.0 1463.9Z"/><path d="M1568.6 1445.2L1603.6 1445.2L1586.1 1475.5Z"/><path d="M1589.6 1455.9L1624.6 1455.9L1607.1 1486.2Z"/><path d="M1610.6 1465.8L1645.6 1465.8L1628.1 1496.1Z"/><path d="M1631.6 1473.2L1666.6 1473.2L1649.1 1503.5Z"/><path d="M1694.7 1473.2L1729.7 1473.2L1712.2 1503.5Z"/><path d="M1715.7 1473.2L1750.7 1473.2L1733.2 1503.5Z"/><path d="M1736.8 1472.9L1771.8 1472.9L1754.3 1503.3Z"/><path d="M1757.8 1472.0L1792.8 1472.0L1775.3 1502.3Z"/><path d="M1778.8 1471.0L1813.8 1471.0L1796.3 1501.4Z"/><path d="M1799.8 1470.1L1834.8 1470.1L1817.3 1500.4Z"/><path d="M1820.9 1469.1L1855.9 1469.1L1838.4 1499.5Z"/><path d="M1841.9 1468.2L1876.9 1468.2L1859.4 1498.5Z"/><path d="M1862.9 1467.5L1897.9 1467.5L1880.4 1497.8Z"/><path d="M1883.9 1467.0L1918.9 1467.0L1901.4 1497.3Z"/><path d="M1905.0 1467.2L1940.0 1467.2L1922.5 1497.5Z"/><path d="M1926.0 1467.7L1961.0 1467.7L1943.5 1498.0Z"/><path d="M1947.0 1468.2L1982.0 1468.2L1964.5 1498.5Z"/><path d="M1968.0 1468.7L2003.0 1468.7L1985.5 1499.0Z"/><path d="M1989.1 1469.6L2024.1 1469.6L2006.6 1499.9Z"/><path d="M2010.1 1470.1L2045.1 1470.1L2027.6 1500.4Z"/><path d="M2031.1 1470.8L2066.1 1470.8L2048.6 1501.1Z"/><path d="M2052.1 1471.5L2087.1 1471.5L2069.6 1501.8Z"/><path d="M2073.2 1472.2L2108.2 1472.2L2090.7 1502.5Z"/><path d="M2094.2 1472.9L2129.2 1472.9L2111.7 1503.3Z"/><path d="M2136.2 1473.2L2171.2 1473.2L2153.7 1503.5Z"/><path d="M2157.3 1473.2L2192.3 1473.2L2174.8 1503.5Z"/><path d="M2178.3 1473.2L2213.3 1473.2L2195.8 1503.5Z"/><path d="M2199.3 1473.2L2234.3 1473.2L2216.8 1503.5Z"/><path d="M2220.3 1473.2L2255.3 1473.2L2237.8 1503.5Z"/><path d="M2241.4 1473.2L2276.4 1473.2L2258.9 1503.5Z"/><path d="M2262.4 1473.2L2297.4 1473.2L2279.9 1503.5Z"/><path d="M2283.4 1473.2L2318.4 1473.2L2300.9 1503.5Z"/><path d="M2304.4 1473.2L2339.4 1473.2L2321.9 1503.5Z"/><path d="M2325.5 1473.2L2360.5 1473.2L2343.0 1503.5Z"/><path d="M2346.5 1473.2L2381.5 1473.2L2364.0 1503.5Z"/><path d="M2367.5 1473.2L2402.5 1473.2L2385.0 1503.5Z"/></g>
<text transform="translate(305.60 1504.60) scale(1 1.070)" font-family="Liberation Sans, Arial, sans-serif" font-size="56.00" font-weight="bold" text-anchor="end">0</text>
<text transform="translate(305.60 1266.77) scale(1 1.070)" font-family="Liberation Sans, Arial, sans-serif" font-size="56.00" font-weight="bold" text-anchor="end">500</text>
<text transform="translate(305.60 1028.93) scale(1 1.070)" font-family="Liberation Sans, Arial, sans-serif" font-size="56.00" font-weight="bold" text-anchor="end">1000</text>
<text transform="translate(305.60 791.10) scale(1 1.070)" font-family="Liberation Sans, Arial, sans-serif" font-size="56.00" font-weight="bold" text-anchor="end">1500</text>
<text transform="translate(305.60 553.27) scale(1 1.070)" font-family="Liberation Sans, Arial, sans-serif" font-size="56.00" font-weight="bold" text-anchor="end">2000</text>
<text transform="translate(305.60 315.43) scale(1 1.070)" font-family="Liberation Sans, Arial, sans-serif" font-size="56.00" font-weight="bold" text-anchor="end">2500</text>
<text transform="translate(305.60 77.60) scale(1 1.070)" font-family="Liberation Sans, Arial, sans-serif" font-size="56.00" font-weight="bold" text-anchor="end">3000</text>
<text transform="translate(493.27 1584.60) scale(1 1.070)" font-family="Liberation Sans, Arial, sans-serif" font-size="56.00" font-weight="bold" text-anchor="middle">2</text>
<text transform="translate(913.76 1584.60) scale(1 1.070)" font-family="Liberation Sans, Arial, sans-serif" font-size="56.00" font-weight="bold" text-anchor="middle">3</text>
<text transform="translate(1334.26 1584.60) scale(1 1.070)" font-family="Liberation Sans, Arial, sans-serif" font-size="56.00" font-weight="bold" text-anchor="middle">4</text>
<text transform="translate(1754.77 1584.60) scale(1 1.070)" font-family="Liberation Sans, Arial, sans-serif" font-size="56.00" font-weight="bold" text-anchor="middle">5</text>
<text transform="translate(2175.27 1584.60) scale(1 1.070)" font-family="Liberation Sans, Arial, sans-serif" font-size="56.00" font-weight="bold" text-anchor="middle">6</text>
<defs><clipPath id="cb"><rect x="0" y="0" width="2436" height="1715.9"/></clipPath></defs>
<g clip-path="url(#cb)"><text transform="translate(1204.00 1698.60) scale(1 1.041)" font-family="Liberation Sans, Arial, sans-serif" font-size="102.00" font-weight="bold">Log (f) (Hz)</text></g>
<text transform="translate(112.1 1303.9) rotate(-90) scale(1 1.044)" font-family="Liberation Sans, Arial, sans-serif" font-weight="bold" font-size="102">Dielectric constant (<tspan font-family="DejaVu Serif, serif" font-weight="normal" font-size="99" dx="-4.5" dy="3.4">ε</tspan><tspan dx="-4.9" dy="-3.4">')</tspan></text>
<rect x="1420.9" y="79.0" width="664.5" height="376.0" fill="#fff" stroke="#000" stroke-width="8.3" stroke-linejoin="round"/>
<path d="M1461 151.0H1588" stroke="#000" stroke-width="8" stroke-linecap="round"/>
<circle cx="1523.5" cy="149.8" r="20" fill="#000"/>
<path d="M1461.7 224.5H1588" stroke="#ff0000" stroke-width="4.8" stroke-linecap="round" stroke-dasharray="0 16.63"/>
<circle cx="1523.5" cy="223.0" r="15.9" fill="#fff" stroke="#ff0000" stroke-width="8.3"/>
<path d="M1461 302.3H1588" stroke="#00805e" stroke-width="8.6" stroke-linecap="round" stroke-dasharray="36.4 20.8"/>
<path d="M1507.0 292.2L1542.0 292.2L1524.5 322.5Z" fill="#000" stroke="#008080" stroke-width="4.3"/>
<path d="M1461 380.0H1588" stroke="#e000c8" stroke-width="8.6" stroke-linecap="round" stroke-dasharray="47 22 0 22 0 22"/>
<path d="M1507.0 369.9L1542.0 369.9L1524.5 400.2Z" fill="#fff" stroke="#e000c8" stroke-width="4.2"/>
<text transform="translate(1619.30 171.00) scale(1 1.050)" font-family="Liberation Sans, Arial, sans-serif" font-size="56.50" letter-spacing="0.85">PANI/PbS</text>
<text transform="translate(1619.90 246.80) scale(1 1.050)" font-family="Liberation Sans, Arial, sans-serif" font-size="56.50">5x10</text>
<text transform="translate(1743.85 218.30) scale(1 1.020)" font-family="Liberation Sans, Arial, sans-serif" font-size="37.50">16</text>
<text transform="translate(1798.80 246.80) scale(1 1.050)" font-family="Liberation Sans, Arial, sans-serif" font-size="56.50">ions/cm</text>
<text transform="translate(1992.80 218.30) scale(1 1.020)" font-family="Liberation Sans, Arial, sans-serif" font-size="37.50">2</text>
<text transform="translate(1621.50 324.00) scale(1 1.050)" font-family="Liberation Sans, Arial, sans-serif" font-size="56.50">10x10</text>
<text transform="translate(1774.95 295.50) scale(1 1.020)" font-family="Liberation Sans, Arial, sans-serif" font-size="37.50">16</text>
<text transform="translate(1829.90 324.00) scale(1 1.050)" font-family="Liberation Sans, Arial, sans-serif" font-size="56.50">ions/cm</text>
<text transform="translate(2024.10 295.50) scale(1 1.020)" font-family="Liberation Sans, Arial, sans-serif" font-size="37.50">2</text>
<text transform="translate(1621.50 402.10) scale(1 1.050)" font-family="Liberation Sans, Arial, sans-serif" font-size="56.50">15x10</text>
<text transform="translate(1774.95 373.60) scale(1 1.020)" font-family="Liberation Sans, Arial, sans-serif" font-size="37.50">16</text>
<text transform="translate(1829.90 402.10) scale(1 1.050)" font-family="Liberation Sans, Arial, sans-serif" font-size="56.50">ions/cm</text>
<text transform="translate(2024.10 373.60) scale(1 1.020)" font-family="Liberation Sans, Arial, sans-serif" font-size="37.50">2</text>
</svg>
</body></html>
